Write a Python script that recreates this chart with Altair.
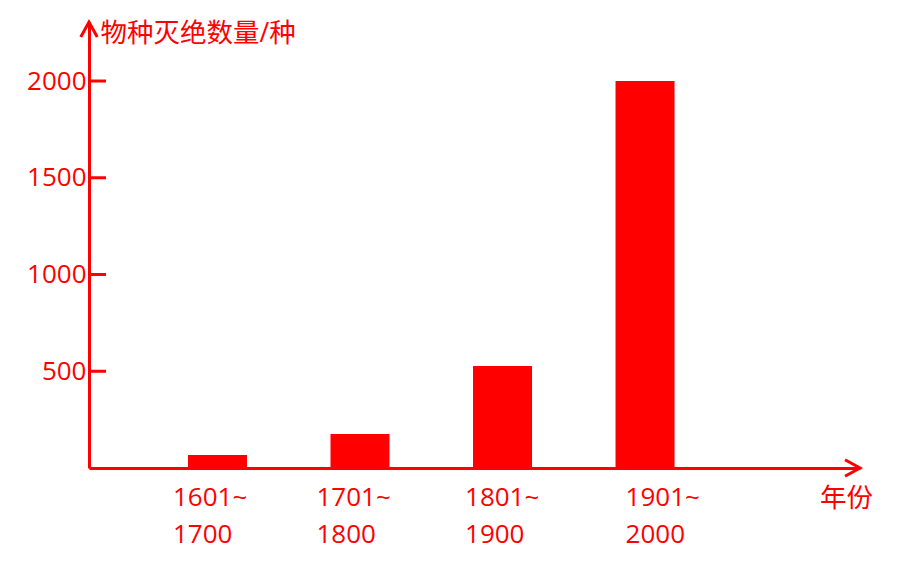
import altair as alt
import pandas as pd

periods = ["1601~1700", "1701~1800", "1801~1900", "1901~2000"]
extinct = [67, 176, 527, 2000]
y_ticks = [500, 1000, 1500, 2000]
label_shift = [-44.5, -43.5, -37.5, -19.5]

RED = "#ff0000"
FONT = "Open Sans, Noto Sans CJK SC"
W, H = 771, 446
YMAX = 2305

bars_df = pd.DataFrame({"period": periods, "count": extinct})
ticks_df = pd.DataFrame({"v": y_ticks})

yscale = alt.Scale(domain=[0, YMAX], nice=False, zero=True)
xscale = alt.Scale(domain=periods, paddingInner=0.586, paddingOuter=0.998, align=0.348)

offset_cond = {
    "condition": [{"test": f"datum.value == '{p}'", "value": s} for p, s in zip(periods, label_shift)],
    "value": 0,
}

xaxis = alt.Axis(
    title="年份", titleX=757, titleY=30, titleAlign="center", titleBaseline="middle",
    titleFont=FONT, titleFontSize=26.5, titleFontWeight="normal", titleColor=RED,
    labelAngle=0, labelAlign="left", labelBaseline="top", labelPadding=16,
    labelLineHeight=37, labelFontSize=26, labelFont=FONT, labelColor=RED,
    labelExpr="[substring(datum.label, 0, 5), substring(datum.label, 5)]",
    labelOffset=offset_cond,
    ticks=False, domainColor=RED, domainWidth=3, grid=False,
)

yaxis = alt.Axis(
    values=y_ticks, format="d", ticks=False, labelPadding=3, labelFontSize=26,
    labelFont=FONT, labelColor=RED, domainColor=RED, domainWidth=3, grid=False,
    title="物种灭绝数量/种", titleAngle=0, titleX=11, titleY=11, titleAlign="left",
    titleBaseline="middle", titleFont=FONT, titleFontSize=26.5, titleFontWeight="normal",
    titleColor=RED,
)

bars = alt.Chart(bars_df).mark_bar(color=RED).encode(
    x=alt.X("period:N", scale=xscale, sort=periods, axis=xaxis),
    y=alt.Y("count:Q", scale=yscale, axis=yaxis),
)

tick_rules = alt.Chart(ticks_df).mark_rule(color=RED, strokeWidth=3).encode(
    y=alt.Y("v:Q", scale=yscale),
    x=alt.value(0),
    x2=alt.value(17),
)

one = pd.DataFrame({"a": [0]})
x_arrow = alt.Chart(one).mark_point(
    shape="M-1,-0.55L0,0L-1,0.55", filled=False, size=900, color=RED,
    strokeWidth=3, opacity=1,
).encode(x=alt.value(W), y=alt.value(H))

y_arrow = alt.Chart(one).mark_point(
    shape="M-0.55,1L0,0L0.55,1", filled=False, size=900, color=RED,
    strokeWidth=3, opacity=1,
).encode(x=alt.value(0), y=alt.value(0))

chart = alt.layer(bars, tick_rules, x_arrow, y_arrow).properties(
    width=W, height=H,
    autosize=alt.AutoSizeParams(type="none"),
    padding={"left": 81, "top": 14, "right": 40, "bottom": 95},
).configure_view(stroke=None)

chart.save("out.html", embed_options={"renderer": "svg", "actions": False})
